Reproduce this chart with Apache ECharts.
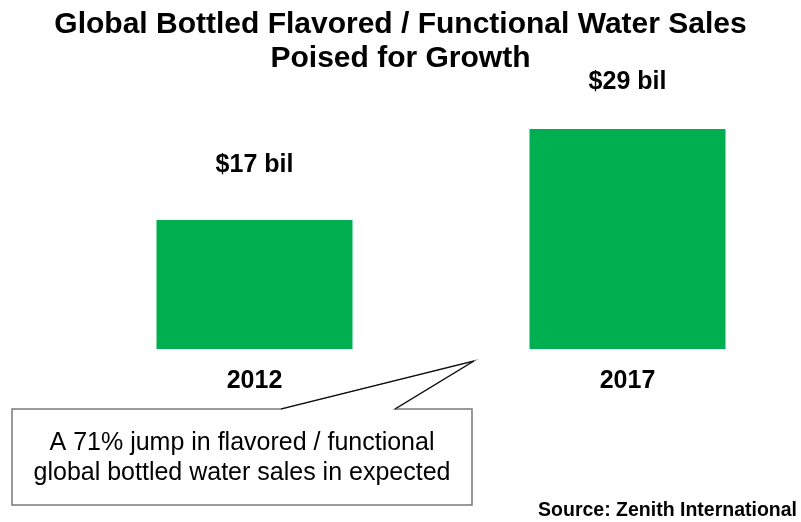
<!DOCTYPE html>
<html>
<head>
<meta charset="utf-8">
<script src="https://cdn.jsdelivr.net/npm/echarts@6/dist/echarts.min.js"></script>
<style>
  html, body { margin: 0; padding: 0; background: #ffffff; }
  #chart { width: 801px; height: 522px; }
</style>
</head>
<body>
<div id="chart"></div>
<script>
// Sales in billions of US dollars
const years = ['2012', '2017'];
const salesBil = [17, 29];

const titleText = 'Global Bottled Flavored / Functional Water Sales\nPoised for Growth';
const calloutText = 'A 71% jump in flavored / functional\nglobal bottled water sales in expected';
const sourceText = 'Source: Zenith International';

const FONT = '"Liberation Sans", Arial, Helvetica, sans-serif';
const labelGap = [42, 34];

const chart = echarts.init(document.getElementById('chart'), null, { renderer: 'canvas' });

chart.setOption({
  animation: false,
  backgroundColor: '#ffffff',
  title: {
    text: titleText,
    left: 'center',
    top: 3,
    textStyle: {
      fontFamily: FONT,
      fontSize: 30,
      fontWeight: 'bold',
      color: '#000000',
      lineHeight: 34
    }
  },
  grid: {
    left: 68,
    width: 746,
    top: 45.55,
    height: 303.45,
    containLabel: false,
    outerBoundsMode: 'none'
  },
  xAxis: {
    type: 'category',
    data: years,
    axisLine: { show: false },
    axisTick: { show: false },
    axisLabel: {
      margin: 20,
      fontFamily: FONT,
      fontSize: 25,
      fontWeight: 'bold',
      color: '#000000'
    }
  },
  yAxis: {
    type: 'value',
    min: 0,
    max: 40,
    show: false,
    splitLine: { show: false }
  },
  series: [{
    type: 'bar',
    barWidth: 196,
    data: salesBil.map((v, i) => ({ value: v, label: { distance: labelGap[i] } })),
    itemStyle: { color: '#00B050' },
    label: {
      show: true,
      position: 'top',
      fontFamily: FONT,
      fontSize: 25,
      fontWeight: 'bold',
      color: '#000000',
      formatter: p => '$' + p.value + ' bil'
    }
  }],
  graphic: [
    // callout box with its pointer
    {
      type: 'polygon',
      shape: {
        points: [[12, 409], [281, 409], [474, 361], [395, 409], [472, 409], [472, 505], [12, 505]]
      },
      style: { fill: '#ffffff', stroke: '#7a7a7a', lineWidth: 1.5 }
    },
    {
      type: 'polyline',
      shape: { points: [[281, 409], [474, 361], [395, 409]] },
      style: { stroke: '#000000', lineWidth: 1, fill: null }
    },
    {
      type: 'text',
      x: 242,
      y: 458,
      style: {
        text: calloutText,
        font: '25px ' + FONT,
        fill: '#000000',
        align: 'center',
        verticalAlign: 'middle',
        lineHeight: 30
      }
    },
    {
      type: 'text',
      x: 797,
      y: 511,
      style: {
        text: sourceText,
        font: 'bold 19.5px ' + FONT,
        fill: '#000000',
        align: 'right',
        verticalAlign: 'middle'
      }
    }
  ]
});
</script>
</body>
</html>
